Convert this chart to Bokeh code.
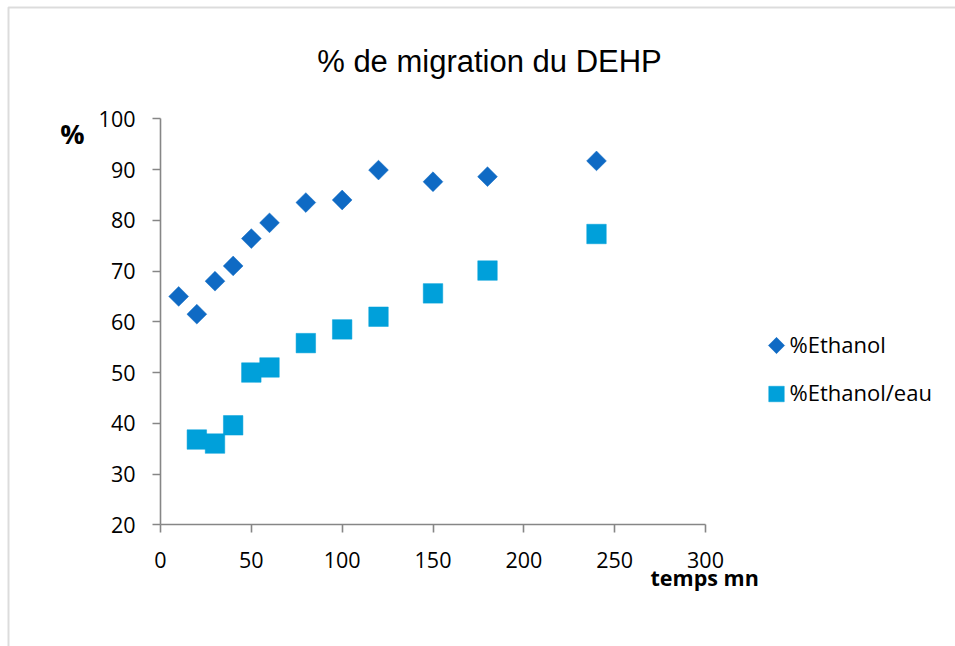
from bokeh.plotting import figure
from bokeh.models import (Range1d, FixedTicker, Label, BoxAnnotation,
                          ColumnDataSource, LinearAxis)
from bokeh.embed import file_html
from bokeh.resources import INLINE
import math

# Migration du DEHP (%) en fonction du temps (mn)
temps_ethanol = [10, 20, 30, 40, 50, 60, 80, 100, 120, 150, 180, 240]
pct_ethanol = [65.0, 61.5, 68.0, 71.0, 76.4, 79.5, 83.5, 84.0, 89.9, 87.6, 88.6, 91.7]

temps_eau = [20, 30, 40, 50, 60, 80, 100, 120, 150, 180, 240]
pct_eau = [36.8, 36.0, 39.6, 50.0, 51.0, 55.8, 58.5, 61.0, 65.6, 70.1, 77.3]

x_ticks = [0, 50, 100, 150, 200, 250, 300]
y_ticks = [20, 30, 40, 50, 60, 70, 80, 90, 100]

series_names = ["%Ethanol", "%Ethanol/eau"]
title_text = "% de migration du DEHP"
x_title = "temps mn"
y_title = "%"

C_DIAMOND = "#0F6AC4"
C_SQUARE = "#00A0DA"
AXIS_GREY = "#868686"
TICK_FONT = "Open Sans"

W, H = 955, 646
# plot box in canvas pixels: x axis 0..300 spans 160..705, y axis 20..100 spans 524.3..118.3
PX_LEFT, PX_RIGHT = 160.0, 705.0
PX_BOTTOM, PX_TOP = 524.3, 118.3
X_MIN, X_MAX = 0, 300
Y_MIN, Y_MAX = 20, 100
sx = (PX_RIGHT - PX_LEFT) / (X_MAX - X_MIN)
sy = (PX_BOTTOM - PX_TOP) / (Y_MAX - Y_MIN)
x_range = Range1d(X_MIN - PX_LEFT / sx, X_MIN + (W - PX_LEFT) / sx)
y_range = Range1d(Y_MIN - (H - PX_BOTTOM) / sy, Y_MIN + PX_BOTTOM / sy)


def data_x(px):
    return X_MIN + (px - PX_LEFT) / sx


def data_y(py):
    return Y_MIN + (PX_BOTTOM - py) / sy


p = figure(width=W, height=H, output_backend="svg", toolbar_location=None,
           x_range=x_range, y_range=y_range,
           x_axis_type=None, y_axis_type=None,
           min_border=0, min_border_left=0, min_border_right=0,
           min_border_top=0, min_border_bottom=0)
p.outline_line_color = None
p.background_fill_color = "white"
p.border_fill_color = "white"
p.xgrid.visible = False
p.ygrid.visible = False

xaxis = LinearAxis(fixed_location=Y_MIN, bounds=(X_MIN, X_MAX),
                   ticker=FixedTicker(ticks=x_ticks))
yaxis = LinearAxis(fixed_location=X_MIN, bounds=(Y_MIN, Y_MAX),
                   ticker=FixedTicker(ticks=y_ticks))
for ax in (xaxis, yaxis):
    ax.axis_line_color = AXIS_GREY
    ax.axis_line_width = 1.6
    ax.major_tick_line_color = AXIS_GREY
    ax.major_tick_line_width = 1.6
    ax.major_tick_in = 0
    ax.major_tick_out = 8
    ax.minor_tick_line_color = None
    ax.major_label_text_font = TICK_FONT
    ax.major_label_text_font_size = "21.5px"
    ax.major_label_text_color = "black"
yaxis.major_label_standoff = 17
xaxis.major_label_standoff = 19
p.add_layout(xaxis, "below")
p.add_layout(yaxis, "left")

src1 = ColumnDataSource(dict(x=temps_ethanol, y=pct_ethanol))
src2 = ColumnDataSource(dict(x=temps_eau, y=pct_eau))

p.scatter("x", "y", source=src1, marker="square", size=14, angle=math.pi / 4,
          fill_color=C_DIAMOND, line_color=C_DIAMOND, line_width=0.5)
p.scatter("x", "y", source=src2, marker="square", size=19.5,
          fill_color=C_SQUARE, line_color=C_SQUARE, line_width=0.5)

# legend keys and labels on the right of the plot box
KEY_PX = 776
ROW_PX = [345, 393.5]
p.scatter([data_x(KEY_PX)], [data_y(ROW_PX[0])], marker="square", size=11.5,
          angle=math.pi / 4, fill_color=C_DIAMOND, line_color=C_DIAMOND, line_width=0.5)
p.scatter([data_x(KEY_PX)], [data_y(ROW_PX[1])], marker="square", size=15.5,
          fill_color=C_SQUARE, line_color=C_SQUARE, line_width=0.5)
for name, row in zip(series_names, ROW_PX):
    p.add_layout(Label(x=789, y=H - row + 2, x_units="screen", y_units="screen", text=name,
                       text_align="left", text_baseline="middle",
                       text_font=TICK_FONT, text_font_size="22px", text_color="black"))

p.add_layout(Label(x=489, y=H - 61, x_units="screen", y_units="screen", text=title_text,
                   text_align="center", text_baseline="alphabetic",
                   text_font="Liberation Sans", text_font_size="31px", text_color="black"))
p.add_layout(Label(x=72, y=H - 133, x_units="screen", y_units="screen", text=y_title,
                   text_align="center", text_baseline="middle",
                   text_font=TICK_FONT, text_font_style="bold",
                   text_font_size="27px", text_color="black"))
p.add_layout(Label(x=650, y=H - 577, x_units="screen", y_units="screen", text=x_title,
                   text_align="left", text_baseline="alphabetic",
                   text_font=TICK_FONT, text_font_style="bold",
                   text_font_size="21.5px", text_color="black"))

# chart frame (cut by the window on the right and bottom)
p.add_layout(BoxAnnotation(left=8, right=W + 50, top=H - 7, bottom=-50,
                           left_units="screen", right_units="screen",
                           top_units="screen", bottom_units="screen",
                           fill_alpha=0, line_color="#8A8A8A", line_width=2))

open("out.html", "w").write(file_html(p, INLINE))
